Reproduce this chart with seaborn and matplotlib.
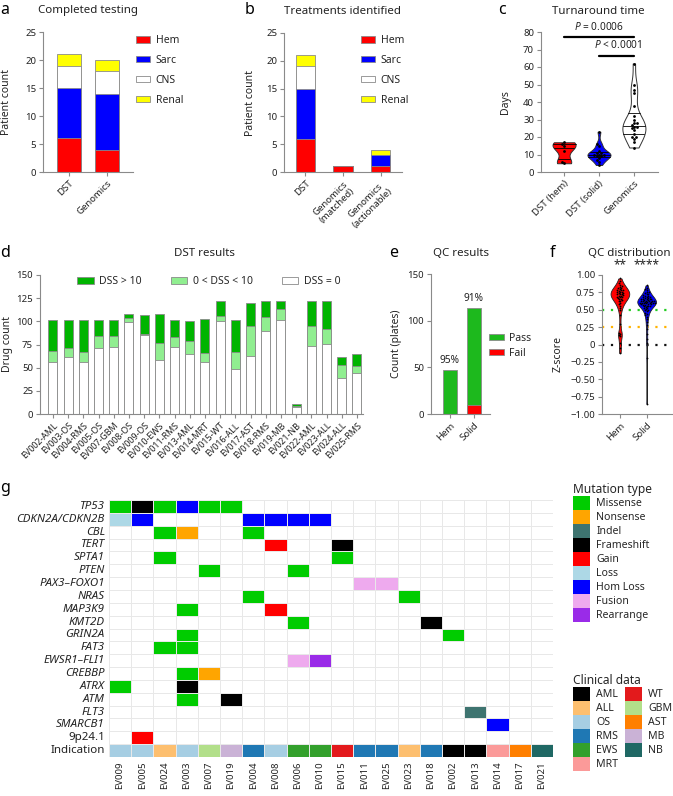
import numpy as np
import pandas as pd
import matplotlib
matplotlib.use("Agg")
import matplotlib.pyplot as plt
from matplotlib.patches import Patch
from matplotlib.colors import ListedColormap
import seaborn as sns

sns.set_theme(style="ticks")
FONT = "Noto Sans"
plt.rcParams["font.family"] = [FONT, "DejaVu Sans"]
plt.rcParams["mathtext.fontset"] = "custom"
plt.rcParams["mathtext.it"] = FONT + ":italic"
plt.rcParams["mathtext.rm"] = FONT

# ------------------------------------------------------------------ data
tumour_types = ["Hem", "Sarc", "CNS", "Renal"]
tumour_colors = ["#FF0000", "#0000FF", "#FFFFFF", "#FFFF00"]

a_groups = ["DST", "Genomics"]
a_hem = [6, 4]
a_sarc = [9, 10]
a_cns = [4, 4]
a_renal = [2, 2]

b_groups = ["DST", "Genomics\n(matched)", "Genomics\n(actionable)"]
b_hem = [6, 1, 1]
b_sarc = [9, 0, 2]
b_cns = [4, 0, 0]
b_renal = [2, 0, 1]

c_groups = ["DST (hem)", "DST (solid)", "Genomics"]
c_colors = ["#FF0000", "#0000FF", "#FFFFFF"]
c_dst_hem = [5, 6, 12, 15, 16, 17]
c_dst_solid = [4, 6, 7, 8, 9, 9, 10, 10, 10, 11, 11, 12, 15, 16, 23]
c_genomics = [14, 17, 19, 20, 20, 22, 24, 25, 26, 26, 27, 28, 28, 30, 32, 38, 45, 47, 50, 62]

d_samples = ["EV002-AML", "EV003-OS", "EV004-RMS", "EV005-OS", "EV007-GBM", "EV008-OS",
             "EV009-OS", "EV010-EWS", "EV011-RMS", "EV013-AML", "EV014-MRT", "EV015-WT",
             "EV016-ALL", "EV017-AST", "EV018-RMS", "EV019-MB", "EV021-NB", "EV022-AML",
             "EV023-ALL", "EV024-ALL", "EV025-RMS"]
d_dss0 = [56, 61, 56, 71, 72, 99, 85, 58, 72, 65, 56, 100, 49, 63, 90, 101, 8, 73, 76, 39, 44]
d_dss_low = [12, 10, 11, 13, 12, 5, 1, 19, 11, 14, 10, 6, 18, 32, 15, 12, 1, 22, 16, 14, 8]
d_dss_high = [33, 30, 34, 17, 17, 4, 21, 31, 18, 21, 36, 16, 34, 25, 17, 9, 2, 27, 30, 9, 13]
d_labels = ["DSS > 10", "0 < DSS < 10", "DSS = 0"]

e_groups = ["Hem", "Solid"]
e_fail = [0, 10]
e_pass = [47, 104]
e_pct = ["95%", "91%"]

f_groups = ["Hem", "Solid"]
f_hem = [0.95, 0.92, 0.88, 0.86, 0.84, 0.83, 0.82, 0.81, 0.80, 0.79, 0.78, 0.78, 0.77,
         0.76, 0.75, 0.75, 0.74, 0.74, 0.73, 0.72, 0.72, 0.71, 0.70, 0.70, 0.69, 0.68,
         0.68, 0.67, 0.66, 0.65, 0.64, 0.63, 0.62, 0.60, 0.58, 0.56, 0.53, 0.50, 0.42,
         0.30, 0.17, 0.15, 0.14, 0.12, 0.02, -0.05, -0.12]
f_solid = [0.85, 0.82, 0.80, 0.78, 0.76, 0.75, 0.74, 0.73, 0.72, 0.71, 0.70, 0.70, 0.69,
           0.68, 0.68, 0.67, 0.67, 0.66, 0.66, 0.65, 0.65, 0.65, 0.64, 0.64, 0.63, 0.63,
           0.63, 0.62, 0.62, 0.62, 0.61, 0.61, 0.61, 0.60, 0.60, 0.60, 0.60, 0.59, 0.59,
           0.59, 0.58, 0.58, 0.58, 0.57, 0.57, 0.56, 0.56, 0.55, 0.55, 0.54, 0.53, 0.52,
           0.51, 0.50, 0.49, 0.48, 0.46, 0.44, 0.42, 0.40, 0.37, 0.33, 0.28, 0.22, 0.15,
           0.08, 0.02, -0.20, -0.85]
f_yticks = [-1.0, -0.75, -0.5, -0.25, 0, 0.25, 0.5, 0.75, 1.0]
f_yticklabels = ["\u22121.00", "\u22120.75", "\u22120.50", "\u22120.25", "0",
                 "0.25", "0.50", "0.75", "1.00"]

g_samples = ["EV009", "EV005", "EV024", "EV003", "EV007", "EV019", "EV004", "EV008",
             "EV006", "EV010", "EV015", "EV011", "EV025", "EV023", "EV018", "EV002",
             "EV013", "EV014", "EV017", "EV021"]
g_genes = ["TP53", "CDKN2A/CDKN2B", "CBL", "TERT", "SPTA1", "PTEN", "PAX3\u2013FOXO1",
           "NRAS", "MAP3K9", "KMT2D", "GRIN2A", "FAT3", "EWSR1\u2013FLI1", "CREBBP",
           "ATRX", "ATM", "FLT3", "SMARCB1", "9p24.1"]
g_mutations = {
    "TP53": [("EV009", "Missense"), ("EV005", "Frameshift"), ("EV024", "Missense"),
             ("EV003", "Hom Loss"), ("EV007", "Missense"), ("EV019", "Missense")],
    "CDKN2A/CDKN2B": [("EV009", "Loss"), ("EV005", "Hom Loss"), ("EV004", "Hom Loss"),
                      ("EV008", "Hom Loss"), ("EV006", "Hom Loss"), ("EV010", "Hom Loss")],
    "CBL": [("EV024", "Missense"), ("EV003", "Nonsense"), ("EV004", "Missense")],
    "TERT": [("EV008", "Gain"), ("EV015", "Frameshift")],
    "SPTA1": [("EV024", "Missense"), ("EV015", "Missense")],
    "PTEN": [("EV007", "Missense"), ("EV006", "Missense")],
    "PAX3\u2013FOXO1": [("EV011", "Fusion"), ("EV025", "Fusion")],
    "NRAS": [("EV004", "Missense"), ("EV023", "Missense")],
    "MAP3K9": [("EV003", "Missense"), ("EV008", "Gain")],
    "KMT2D": [("EV006", "Missense"), ("EV018", "Frameshift")],
    "GRIN2A": [("EV003", "Missense"), ("EV002", "Missense")],
    "FAT3": [("EV024", "Missense"), ("EV003", "Missense")],
    "EWSR1\u2013FLI1": [("EV006", "Fusion"), ("EV010", "Rearrange")],
    "CREBBP": [("EV003", "Missense"), ("EV007", "Nonsense")],
    "ATRX": [("EV009", "Missense"), ("EV003", "Frameshift")],
    "ATM": [("EV003", "Missense"), ("EV019", "Frameshift")],
    "FLT3": [("EV013", "Indel")],
    "SMARCB1": [("EV014", "Hom Loss")],
    "9p24.1": [("EV005", "Gain")],
}
g_indication = ["OS", "OS", "ALL", "OS", "GBM", "MB", "RMS", "OS", "EWS", "EWS", "WT",
                "RMS", "RMS", "ALL", "RMS", "AML", "AML", "MRT", "AST", "NB"]
mut_types = ["Missense", "Nonsense", "Indel", "Frameshift", "Gain", "Loss", "Hom Loss",
             "Fusion", "Rearrange"]
mut_colors = ["#00CC00", "#FFA500", "#3E7470", "#000000", "#FF0000", "#ADD8E6",
              "#0000FF", "#EEAAEE", "#9A2BE8"]
clin_types = ["AML", "ALL", "OS", "RMS", "EWS", "MRT", "WT", "GBM", "AST", "MB", "NB"]
clin_colors = ["#000000", "#FDBF6F", "#A6CEE3", "#1F78B4", "#33A02C", "#FB9A99",
               "#E31A1C", "#B2DF8A", "#FF7F00", "#CAB2D6", "#1F6864"]

# ------------------------------------------------------------------ layout helpers
W, H = 673, 796
fig = plt.figure(figsize=(W / 100, H / 100), dpi=100)
fig.patch.set_facecolor("white")
EDGE = "#8a8a8a"
TXT = "#222222"


def px_axes(x0, y0, x1, y1):
    ax = fig.add_axes([x0 / W, 1 - y1 / H, (x1 - x0) / W, (y1 - y0) / H])
    ax.set_facecolor("none")
    return ax, (x0, y0, x1, y1)


def style(ax):
    for s in ["top", "right"]:
        ax.spines[s].set_visible(False)
    for s in ["left", "bottom"]:
        ax.spines[s].set_color(EDGE)
        ax.spines[s].set_linewidth(0.8)
    ax.tick_params(colors=EDGE, labelcolor=TXT, length=3, width=0.8, labelsize=6.9, pad=2)


def rot_labels(ax, size=6.9):
    for lbl in ax.get_xticklabels():
        lbl.set_rotation(45)
        lbl.set_ha("right")
        lbl.set_rotation_mode("anchor")
        lbl.set_fontsize(size)
        lbl.set_multialignment("center")


def ylabel(ax, box, text, xpx_right, yfrac=0.5, size=7.5):
    # xpx_right: pixel position of the right edge of the rotated label
    ax.set_ylabel(text, fontsize=size, color=TXT)
    x0, y0, x1, y1 = box
    ax.yaxis.set_label_coords((xpx_right - x0) / (x1 - x0), yfrac)


def ftext(xpx, ypx, s, **kw):
    kw.setdefault("color", TXT)
    fig.text(xpx / W, 1 - ypx / H, s, **kw)


def stacked(ax, cats, layers, colors, width):
    cum = np.cumsum(np.array(layers, dtype=float), axis=0)
    for i in range(len(layers) - 1, -1, -1):
        sns.barplot(x=cats, y=cum[i], order=cats, color=colors[i], saturation=1,
                    width=width, edgecolor=EDGE, linewidth=0.6, errorbar=None, ax=ax)
    ax.set_xlabel("")


def tumour_legend(ax, xpx, ypx):
    handles = [Patch(facecolor=c, edgecolor=EDGE, linewidth=0.6, label=l)
               for l, c in zip(tumour_types, tumour_colors)]
    ax.legend(handles=handles, loc="upper left", bbox_to_anchor=(xpx / W, 1 - ypx / H),
              bbox_transform=fig.transFigure, frameon=False, fontsize=7.5,
              handlelength=1.35, handleheight=0.6, labelspacing=0.85,
              handletextpad=0.55, borderpad=0, borderaxespad=0)


# ------------------------------------------------------------------ panel a
ax, box = px_axes(43, 32, 133, 172)
stacked(ax, a_groups, [a_hem, a_sarc, a_cns, a_renal], tumour_colors, 0.63)
style(ax)
ax.set_ylim(0, 25)
ax.set_yticks(range(0, 26, 5))
ax.set_xlim(-0.68, 1.68)
rot_labels(ax)
ylabel(ax, box, "Patient count", 12)
tumour_legend(ax, 136, 35)
ftext(88, 11, "Completed testing", fontsize=8.3, ha="center", va="center")

# ------------------------------------------------------------------ panel b
ax, box = px_axes(284, 33, 402, 172)
stacked(ax, b_groups, [b_hem, b_sarc, b_cns, b_renal], tumour_colors, 0.52)
style(ax)
ax.set_ylim(0, 25)
ax.set_yticks(range(0, 26, 5))
ax.set_xlim(-0.57, 2.57)
rot_labels(ax)
ylabel(ax, box, "Patient count", 256)
tumour_legend(ax, 361, 35)
ftext(343, 11, "Treatments identified", fontsize=8.3, ha="center", va="center")

# ------------------------------------------------------------------ panel c
ax, box = px_axes(541, 32, 658, 172)
c_df = pd.DataFrame({
    "group": [c_groups[0]] * len(c_dst_hem) + [c_groups[1]] * len(c_dst_solid)
             + [c_groups[2]] * len(c_genomics),
    "days": c_dst_hem + c_dst_solid + c_genomics,
})
sns.violinplot(data=c_df, x="group", y="days", order=c_groups, hue="group",
               hue_order=c_groups, palette=c_colors, legend=False, cut=0, inner="quart",
               inner_kws=dict(color="black", linewidth=0.6), linewidth=0.7,
               linecolor="#333333", width=0.66, density_norm="width", bw_adjust=0.75,
               saturation=1, ax=ax)
for ln in ax.lines:
    ln.set_linestyle("-")
sns.swarmplot(data=c_df, x="group", y="days", order=c_groups, color="black", size=2,
              ax=ax, warn_thresh=1)
style(ax)
ax.set_ylim(0, 80)
ax.set_yticks(range(0, 81, 10))
ax.set_xlim(-0.66, 2.69)
ax.set_xlabel("")
rot_labels(ax)
ylabel(ax, box, "Days", 511)
ax.plot([0, 2], [77, 77], color="black", lw=1.6, clip_on=False)
ax.plot([1, 2], [66.5, 66.5], color="black", lw=1.6, clip_on=False)
ax.text(1.0, 79.5, "$P$ = 0.0006", ha="center", va="bottom", fontsize=7.3, color=TXT,
        clip_on=False)
ax.text(1.55, 69, "$P$ < 0.0001", ha="center", va="bottom", fontsize=7.3, color=TXT,
        clip_on=False)
ftext(598, 11, "Turnaround time", fontsize=8.3, ha="center", va="center")

# ------------------------------------------------------------------ panel d
ax, box = px_axes(40, 275, 363, 414)
d_colors = ["#FFFFFF", "#90EE90", "#00B400"]
stacked(ax, d_samples, [d_dss0, d_dss_low, d_dss_high], d_colors, 0.6)
style(ax)
ax.set_ylim(0, 150)
ax.set_yticks(range(0, 151, 25))
ax.set_xlim(-0.85, 20.4)
rot_labels(ax, 6.4)
ylabel(ax, box, "Drug count", 13)
handles = [Patch(facecolor=c, edgecolor=EDGE, linewidth=0.6, label=l)
           for l, c in zip(d_labels, d_colors[::-1])]
ax.legend(handles=handles, loc="upper left", bbox_to_anchor=(77 / W, 1 - 276 / H),
          bbox_transform=fig.transFigure, ncol=3, frameon=False, fontsize=7.5,
          handlelength=1.6, handleheight=0.6, columnspacing=2.8, handletextpad=0.5,
          borderpad=0, borderaxespad=0)
ftext(205, 254, "DST results", fontsize=8.3, ha="center", va="center")

# ------------------------------------------------------------------ panel e
ax, box = px_axes(431, 274, 490, 414)
stacked(ax, e_groups, [e_fail, e_pass], ["#FF0000", "#1DB91D"], 0.58)
style(ax)
ax.set_ylim(0, 150)
ax.set_yticks([0, 50, 100, 150])
ax.set_xlim(-0.79, 1.67)
rot_labels(ax)
ylabel(ax, box, "Count (plates)", 402)
for i, p in enumerate(e_pct):
    ax.text(i, e_fail[i] + e_pass[i] + 4, p, ha="center", va="bottom", fontsize=7.3,
            color=TXT)
handles = [Patch(facecolor=c, edgecolor=EDGE, linewidth=0.6, label=l)
           for l, c in zip(["Pass", "Fail"], ["#1DB91D", "#FF0000"])]
ax.legend(handles=handles, loc="upper left", bbox_to_anchor=(489 / W, 1 - 333 / H),
          bbox_transform=fig.transFigure, frameon=False, fontsize=7.5,
          handlelength=1.45, handleheight=0.55, labelspacing=0.35, handletextpad=0.5,
          borderpad=0, borderaxespad=0)
ftext(461, 254, "QC results", fontsize=8.3, ha="center", va="center")

# ------------------------------------------------------------------ panel f
ax, box = px_axes(602, 275, 672, 414)
f_df = pd.DataFrame({
    "group": [f_groups[0]] * len(f_hem) + [f_groups[1]] * len(f_solid),
    "z": f_hem + f_solid,
})
ax.axhline(0.5, color="#22CC22", ls=(0, (1, 3)), lw=1.6, zorder=0)
ax.axhline(0.25, color="#FFB300", ls=(0, (1, 3)), lw=1.6, zorder=0)
ax.axhline(0.0, color="#111111", ls=(0, (1, 3)), lw=1.6, zorder=0)
sns.violinplot(data=f_df, x="group", y="z", order=f_groups, hue="group",
               hue_order=f_groups, palette=["#FF0000", "#0000FF"], legend=False, cut=0,
               inner=None, linewidth=0.6, linecolor="#222222", width=0.7,
               density_norm="width", bw_adjust=0.5, saturation=1, ax=ax)
sns.swarmplot(data=f_df, x="group", y="z", order=f_groups, color="black", size=1.3,
              ax=ax, warn_thresh=1)
style(ax)
ax.set_ylim(-1, 1)
ax.set_yticks(f_yticks)
ax.set_yticklabels(f_yticklabels)
ax.set_xlim(-0.67, 1.95)
ax.set_xlabel("")
rot_labels(ax)
ylabel(ax, box, "Z-score", 564, 0.43)
ax.text(0, 1.05, "**", ha="center", va="bottom", fontsize=8.5, color=TXT, clip_on=False)
ax.text(1, 1.05, "****", ha="center", va="bottom", fontsize=8.5, color=TXT, clip_on=False)
ftext(629, 254, "QC distribution", fontsize=8.3, ha="center", va="center")

# ------------------------------------------------------------------ panel g
rows = g_genes + ["Indication"]
mat = np.zeros((len(rows), len(g_samples)))
for r, gene in enumerate(g_genes):
    for s, m in g_mutations[gene]:
        mat[r, g_samples.index(s)] = 1 + mut_types.index(m)
for j, ind in enumerate(g_indication):
    mat[-1, j] = 1 + len(mut_types) + clin_types.index(ind)
mat_df = pd.DataFrame(mat, index=rows, columns=g_samples)
cmap = ListedColormap(["#FFFFFF"] + mut_colors + clin_colors)
ax, box = px_axes(109, 500, 553, 757)
sns.heatmap(mat_df, cmap=cmap, vmin=-0.5, vmax=len(mut_colors) + len(clin_colors) + 0.5,
            cbar=False, linewidths=0.5, linecolor="#e8e8e8", ax=ax)
ax.tick_params(length=0, pad=3, labelcolor=TXT)
ax.set_yticks(np.arange(len(rows)) + 0.5)
ax.set_yticklabels(rows, fontsize=8.3, rotation=0)
for lbl in ax.get_yticklabels():
    if lbl.get_text() not in ("9p24.1", "Indication"):
        lbl.set_style("italic")
ax.set_xticks(np.arange(len(g_samples)) + 0.5)
ax.set_xticklabels(g_samples, fontsize=6.9, rotation=90)
ax.set_xlabel("")
ax.set_ylabel("")

mh = [Patch(facecolor=c, edgecolor="none", label=l) for l, c in zip(mut_types, mut_colors)]
leg1 = fig.legend(handles=mh, loc="upper left", bbox_to_anchor=(573 / W, 1 - 483 / H),
                  title="Mutation type", title_fontsize=8.6, alignment="left",
                  fontsize=7.6, handlelength=1.62, handleheight=1.66, labelspacing=0,
                  handletextpad=0.6, borderpad=0, borderaxespad=0, frameon=False)
ch = [Patch(facecolor=c, edgecolor="none", label=l) for l, c in zip(clin_types, clin_colors)]
leg2 = fig.legend(handles=ch, loc="upper left", bbox_to_anchor=(573 / W, 1 - 674 / H),
                  title="Clinical data", title_fontsize=8.6, alignment="left",
                  fontsize=7.6, ncol=2, handlelength=1.62, handleheight=1.66,
                  labelspacing=0, handletextpad=0.6, columnspacing=0.6, borderpad=0,
                  borderaxespad=0, frameon=False)

# ------------------------------------------------------------------ panel letters
for letter, x, y in [("a", 0, 10), ("b", 245, 10), ("c", 498, 10), ("d", 0, 253),
                     ("e", 389, 253), ("f", 550, 253), ("g", 0, 488)]:
    ftext(x, y, letter, fontsize=11.5, fontweight="bold", ha="left", va="center",
          color="black")

fig.savefig("out.png", dpi=100, facecolor="white")
